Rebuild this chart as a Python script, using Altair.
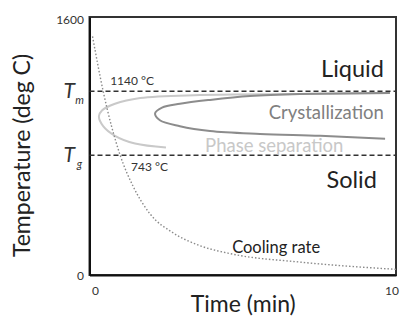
import altair as alt
import pandas as pd

FONT = "Lato"

# Axis ranges and ticks
time_domain = [-0.1, 10]
temp_domain = [0, 1600]
temp_ticks = [0, 743, 1140, 1600]
time_ticks = [0, 10]

# Characteristic temperatures (deg C)
T_melt = 1140
T_glass = 743
rule_span = [-0.1, 10]

# Cooling curve
cool_t = [0, 0.35, 0.91, 1.34, 1.89, 2.65, 3.54, 4.6, 6.84, 10]
cool_T = [1480, 1140, 743, 549, 380, 262, 182, 130, 80, 35]

# Phase-separation C-curve (traced from upper right, round the nose, to lower end)
phase_t = [9.8, 6.84, 3.54, 1.57, 0.74, 0.31, 0.21, 0.35, 0.74, 1.40, 2.42]
phase_T = [1128, 1122, 1116, 1098, 1062, 1020, 984, 923, 863, 815, 791]

# Crystallization C-curve
cryst_t = [9.8, 6.84, 5.19, 3.87, 2.88, 2.29, 2.06, 2.22, 2.88, 3.87, 5.52, 7.50, 9.64]
cryst_T = [1128, 1122, 1110, 1086, 1062, 1038, 1002, 960, 923, 893, 875, 863, 845]

x_scale = alt.Scale(domain=time_domain, nice=False, zero=False)
y_scale = alt.Scale(domain=temp_domain, nice=False)

is_T = "datum.value == 743 || datum.value == 1140"

x_enc = alt.X(
    "t:Q", scale=x_scale,
    axis=alt.Axis(
        values=time_ticks, title="Time (min)", grid=False, ticks=False,
        domain=True, domainColor="#111", domainWidth=2,
        labelFont=FONT, labelFontSize=12, labelColor="#333",
        labelPadding=10, labelOffset=2.5, format="d",
        titleFont=FONT, titleFontSize=23, titleFontWeight="normal",
        titleColor="#222", titleY=29, titleBaseline="middle",
    ),
)
y_enc = alt.Y(
    "T:Q", scale=y_scale,
    axis=alt.Axis(
        values=temp_ticks, title="Temperature (deg C)", grid=False, ticks=False,
        domain=True, domainColor="#111", domainWidth=2,
        labelFont=FONT, labelColor="#333", format="d",
        labelExpr=f"({is_T}) ? 'T' : datum.label",
        labelFontSize={"condition": {"test": is_T, "value": 21}, "value": 12},
        labelFontStyle={"condition": {"test": is_T, "value": "italic"}, "value": "normal"},
        labelPadding={"condition": {"test": is_T, "value": 15},
                      "value": 6},
        labelOffset={"condition": {"test": "datum.value == 1600", "value": 2},
                     "value": 0},
        titleFont=FONT, titleFontSize=23, titleFontWeight="normal",
        titleColor="#222", titleX=-67, titleY=138, titleBaseline="middle",
    ),
)

cool_df = pd.DataFrame({"t": cool_t, "T": cool_T})
phase_df = pd.DataFrame({"t": phase_t, "T": phase_T, "o": range(len(phase_t))})
cryst_df = pd.DataFrame({"t": cryst_t, "T": cryst_T, "o": range(len(cryst_t))})
rules_df = pd.DataFrame({"t": rule_span[0], "t2": rule_span[1], "T": [T_melt, T_glass]})

rules = alt.Chart(rules_df).mark_rule(
    color="#333", strokeWidth=1.6, strokeDash=[5, 3]
).encode(x=x_enc, x2="t2:Q", y=y_enc)

cooling = alt.Chart(cool_df).mark_line(
    color="#8a8a8a", strokeWidth=1.4, strokeDash=[1.5, 2], interpolate="monotone"
).encode(x=x_enc, y=y_enc)

phase = alt.Chart(phase_df).mark_line(
    color="#c9c9c9", strokeWidth=2, interpolate="catmull-rom"
).encode(x=x_enc, y=y_enc, order="o:Q")

cryst = alt.Chart(cryst_df).mark_line(
    color="#8c8c8c", strokeWidth=2, interpolate="catmull-rom"
).encode(x=x_enc, y=y_enc, order="o:Q")


def label(text, t, T, align="left", size=12, color="#333", dy=0, dx=0, style="normal"):
    df = pd.DataFrame({"t": [t], "T": [T], "txt": [text]})
    return alt.Chart(df).mark_text(
        align=align, baseline="middle", font=FONT, fontSize=size,
        color=color, dy=dy, dx=dx, fontStyle=style,
    ).encode(
        x=alt.X("t:Q", scale=x_scale),
        y=alt.Y("T:Q", scale=y_scale),
        text="txt:N",
    )


texts = [
    label("1140 °C", 0.58, T_melt, size=12, dy=-10),
    label("743 °C", 1.27, T_glass, size=12, dy=12),
    label("Liquid", 9.6, 1271, align="right", size=23.5, color="#222"),
    label("Crystallization", 9.6, 1002, align="right", size=18.5, color="#808080"),
    label("Phase separation", 3.71, 803, size=18.5, color="#c8c8c8"),
    label("Solid", 9.37, 581, align="right", size=23.5, color="#222"),
    label("Cooling rate", 4.6, 168, size=16.5, color="#222"),
]

# Subscripts of the T_m and T_g axis labels
sub_df = pd.DataFrame({"T": [T_melt, T_glass], "txt": ["m", "g"]})
subs = alt.Chart(sub_df).mark_text(
    font=FONT, fontSize=11, fontStyle="italic", color="#333",
    align="center", baseline="middle", dy=10,
).encode(x=alt.value(-10), y=alt.Y("T:Q", scale=y_scale), text="txt:N")

chart = alt.layer(rules, phase, cryst, cooling, *texts, subs).properties(
    width=306.5, height=258,
    autosize=alt.AutoSizeParams(type="none"),
    padding={"left": 89.5, "top": 17, "right": 7, "bottom": 46},
    background="white",
).configure_view(stroke="#333", strokeWidth=2)

chart.save("out.html", embed_options={"renderer": "svg", "actions": False})
